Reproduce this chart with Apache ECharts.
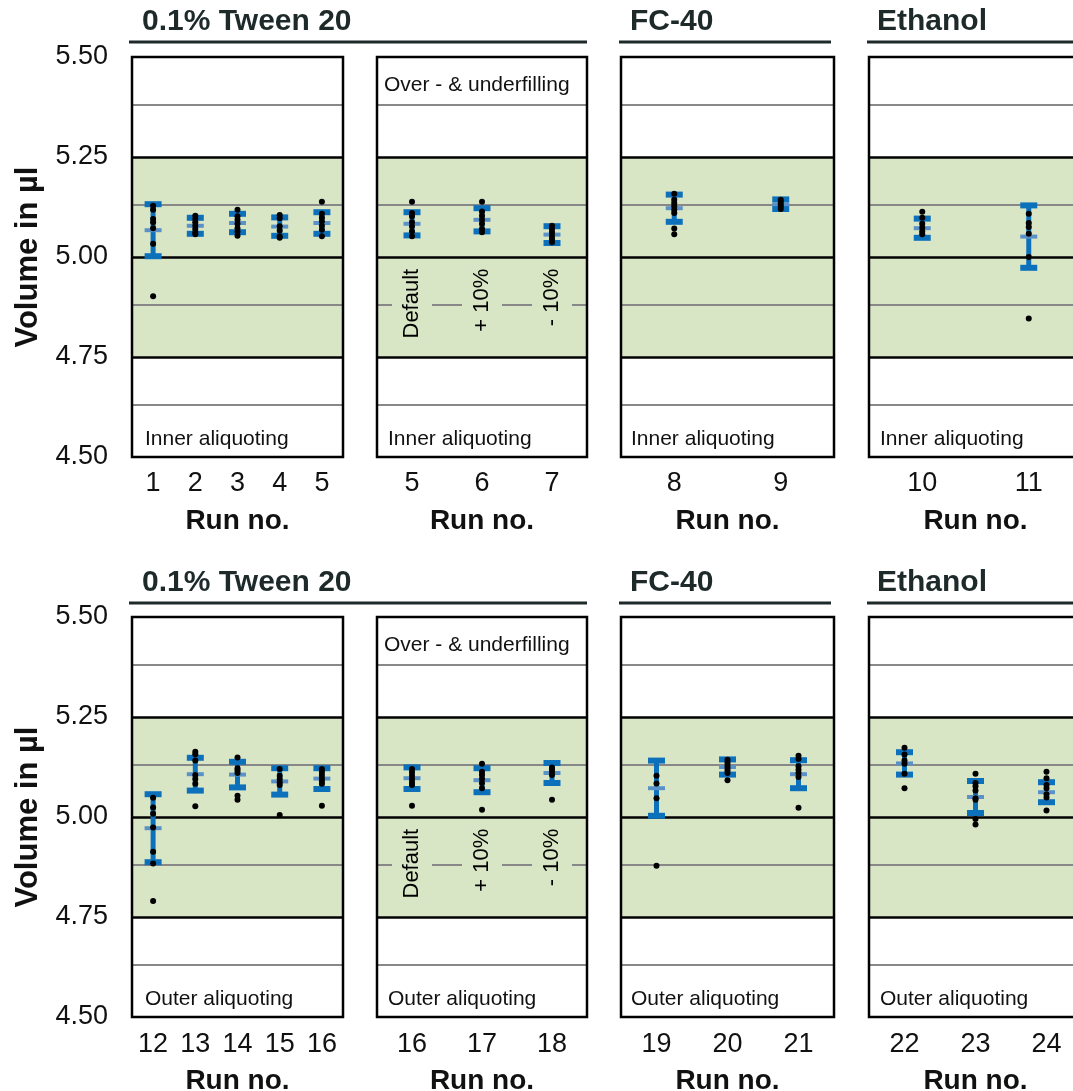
<!DOCTYPE html>
<html>
<head>
<meta charset="utf-8">
<title>Volume per run</title>
<script src="https://cdn.jsdelivr.net/npm/echarts@6/dist/echarts.min.js"></script>
<style>
  html, body { margin: 0; padding: 0; background: #fff; }
  #chart { width: 1073px; height: 1091px; }
</style>
</head>
<body>
<div id="chart"></div>
<script>
// run numbers shown under each panel
const tweenInnerRuns = ['1', '2', '3', '4', '5'];
const fillInnerRuns = ['5', '6', '7'];
const fcInnerRuns = ['8', '9'];
const ethInnerRuns = ['10', '11'];
const tweenOuterRuns = ['12', '13', '14', '15', '16'];
const fillOuterRuns = ['16', '17', '18'];
const fcOuterRuns = ['19', '20', '21'];
const ethOuterRuns = ['22', '23', '24'];

// mean volume in µl per run
const tweenInnerMean = [5.067, 5.078, 5.085, 5.076, 5.085];
const fillInnerMean = [5.083, 5.093, 5.056];
const fcInnerMean = [5.122, 5.132];
const ethInnerMean = [5.072, 5.051];
const tweenOuterMean = [4.972, 5.107, 5.106, 5.089, 5.096];
const fillOuterMean = [5.097, 5.092, 5.110];
const fcOuterMean = [5.072, 5.125, 5.107];
const ethOuterMean = [5.134, 5.050, 5.062];

// standard deviation per run
const tweenInnerSD = [0.065, 0.020, 0.023, 0.023, 0.027];
const fillInnerSD = [0.029, 0.029, 0.021];
const fcInnerSD = [0.034, 0.012];
const ethInnerSD = [0.024, 0.078];
const tweenOuterSD = [0.085, 0.041, 0.032, 0.033, 0.026];
const fillOuterSD = [0.027, 0.030, 0.025];
const fcOuterSD = [0.069, 0.019, 0.035];
const ethOuterSD = [0.028, 0.040, 0.025];

// single measurements per run
const tweenInnerPoints = [
  [5.128, 5.118, 5.095, 5.087, 5.072, 5.033, 4.902],
  [5.103, 5.095, 5.087, 5.078, 5.070, 5.062, 5.057],
  [5.118, 5.102, 5.093, 5.083, 5.072, 5.063, 5.053],
  [5.105, 5.097, 5.077, 5.066, 5.052, 5.048],
  [5.138, 5.108, 5.098, 5.089, 5.078, 5.068, 5.052]
];
const fillInnerPoints = [
  [5.138, 5.110, 5.102, 5.087, 5.077, 5.064, 5.052],
  [5.138, 5.114, 5.103, 5.093, 5.083, 5.070, 5.062],
  [5.078, 5.070, 5.062, 5.053, 5.045, 5.037]
];
const fcInnerPoints = [
  [5.158, 5.143, 5.135, 5.127, 5.118, 5.110, 5.071, 5.057],
  [5.143, 5.138, 5.132, 5.126, 5.120]
];
const ethInnerPoints = [
  [5.113, 5.098, 5.083, 5.073, 5.064, 5.057],
  [5.108, 5.085, 5.075, 5.058, 5.000, 4.846]
];
const tweenOuterPoints = [
  [5.048, 5.024, 5.008, 4.974, 4.913, 4.884, 4.790],
  [5.163, 5.157, 5.141, 5.105, 5.095, 5.083, 5.027],
  [5.149, 5.122, 5.116, 5.110, 5.053, 5.043],
  [5.120, 5.103, 5.095, 5.087, 5.080, 5.005],
  [5.120, 5.113, 5.105, 5.097, 5.090, 5.083, 5.028]
];
const fillOuterPoints = [
  [5.120, 5.112, 5.103, 5.095, 5.087, 5.080, 5.028],
  [5.133, 5.113, 5.105, 5.095, 5.085, 5.072, 5.018],
  [5.124, 5.118, 5.112, 5.105, 5.043]
];
const fcOuterPoints = [
  [5.103, 5.084, 5.047, 4.878],
  [5.143, 5.137, 5.130, 5.123, 5.117, 5.110, 5.092],
  [5.153, 5.145, 5.127, 5.118, 5.110, 5.100, 5.023]
];
const ethOuterPoints = [
  [5.173, 5.156, 5.141, 5.133, 5.108, 5.072],
  [5.108, 5.085, 5.077, 5.066, 5.047, 5.043, 4.995, 4.981],
  [5.113, 5.097, 5.080, 5.072, 5.057, 5.049, 5.016]
];

const fillLabels = ['Default', '+ 10%', '- 10%'];
const greyLevels = [4.625, 4.875, 5.125, 5.375];
const blackLevels = [4.75, 5.0, 5.25];

const panels = [
  { runs: tweenInnerRuns, mean: tweenInnerMean, sd: tweenInnerSD, pts: tweenInnerPoints },
  { runs: fillInnerRuns, mean: fillInnerMean, sd: fillInnerSD, pts: fillInnerPoints, fill: true },
  { runs: fcInnerRuns, mean: fcInnerMean, sd: fcInnerSD, pts: fcInnerPoints },
  { runs: ethInnerRuns, mean: ethInnerMean, sd: ethInnerSD, pts: ethInnerPoints },
  { runs: tweenOuterRuns, mean: tweenOuterMean, sd: tweenOuterSD, pts: tweenOuterPoints },
  { runs: fillOuterRuns, mean: fillOuterMean, sd: fillOuterSD, pts: fillOuterPoints, fill: true },
  { runs: fcOuterRuns, mean: fcOuterMean, sd: fcOuterSD, pts: fcOuterPoints },
  { runs: ethOuterRuns, mean: ethOuterMean, sd: ethOuterSD, pts: ethOuterPoints }
];

const colLeft = [132, 377, 621, 869];
const colWidth = [211, 210, 213, 213];
const rowTop = [57, 617];
const FONT = '"Liberation Sans", Arial, sans-serif';
const GREEN = '#d9e6c6';
const BLUE = '#0d70bb';
const BLUE_LIGHT = '#5a92c8';
const HEAD = '#1e2a2a';

const chart = echarts.init(document.getElementById('chart'));

const grid = [], xAxis = [], yAxis = [], series = [];

panels.forEach((p, i) => {
  const row = Math.floor(i / 4), col = i % 4;
  grid.push({
    left: colLeft[col], top: rowTop[row], width: colWidth[col], height: 400,
    outerBoundsMode: 'none', containLabel: false,
    show: true, z: 10, backgroundColor: 'transparent',
    borderColor: '#000', borderWidth: 2.5
  });
  xAxis.push({
    type: 'category', gridIndex: i, data: p.runs,
    axisLine: { show: false }, axisTick: { show: false }, splitLine: { show: false },
    axisLabel: { fontSize: 27, color: '#111', margin: 13 + row, fontFamily: FONT },
    name: 'Run no.', nameLocation: 'middle', nameGap: 50,
    nameTextStyle: { fontSize: 28, fontWeight: 'bold', color: '#111', fontFamily: FONT }
  });
  yAxis.push({
    type: 'value', gridIndex: i, min: 4.5, max: 5.5, interval: 0.125,
    axisLine: { show: false }, axisTick: { show: false }, splitLine: { show: false },
    axisLabel: {
      show: col === 0, fontSize: 27, color: '#111', margin: 24, fontFamily: FONT,
      formatter: v => (Math.round(v * 1000) % 250 === 0 ? v.toFixed(2) : '')
    },
    name: col === 0 ? 'Volume in µl' : '', nameLocation: 'middle', nameGap: 88,
    nameTextStyle: { fontSize: 31, fontWeight: 'bold', color: '#111', fontFamily: FONT }
  });

  // green tolerance band
  series.push({
    type: 'line', xAxisIndex: i, yAxisIndex: i, data: [], z: 0, silent: true,
    markArea: {
      silent: true, z: 0, itemStyle: { color: GREEN },
      data: [[{ yAxis: 4.75 }, { yAxis: 5.25 }]]
    }
  });

  // reference lines
  series.push({
    type: 'line', xAxisIndex: i, yAxisIndex: i, data: [], z: 1, silent: true,
    markLine: {
      silent: true, z: 1, symbol: ['none', 'none'], label: { show: false },
      data: greyLevels.map(v => ({ yAxis: v, lineStyle: { color: '#888', width: 2, type: 'solid' } }))
        .concat(blackLevels.map(v => ({ yAxis: v, lineStyle: { color: '#000', width: 2.6, type: 'solid' } })))
    }
  });

  // mean ± SD
  series.push({
    type: 'custom', xAxisIndex: i, yAxisIndex: i, z: 2, silent: true,
    data: p.mean.map((m, k) => [k, m, m + p.sd[k], m - p.sd[k]]),
    renderItem: (params, api) => {
      const c = api.coord([api.value(0), api.value(1)]);
      const hi = api.coord([api.value(0), api.value(2)])[1];
      const lo = api.coord([api.value(0), api.value(3)])[1];
      const x = c[0];
      return {
        type: 'group',
        children: [
          { type: 'rect', shape: { x: x - 2.5, y: hi, width: 5, height: lo - hi }, style: { fill: BLUE } },
          { type: 'rect', shape: { x: x - 8.5, y: hi - 3, width: 17, height: 6 }, style: { fill: BLUE } },
          { type: 'rect', shape: { x: x - 8.5, y: lo - 3, width: 17, height: 6 }, style: { fill: BLUE } },
          { type: 'rect', shape: { x: x - 8.5, y: c[1] - 2, width: 17, height: 4 }, style: { fill: BLUE_LIGHT } }
        ]
      };
    }
  });

  // single measurements
  const dots = [];
  p.pts.forEach((vals, k) => vals.forEach(v => dots.push([k, v])));
  series.push({
    type: 'scatter', xAxisIndex: i, yAxisIndex: i, z: 4, silent: true,
    symbolSize: 6, itemStyle: { color: '#000', opacity: 1 }, data: dots
  });

  if (p.fill) {
    series.push({
      type: 'scatter', xAxisIndex: i, yAxisIndex: i, z: 3, silent: true,
      symbolSize: 0, itemStyle: { opacity: 1 },
      data: fillLabels.map((t, k) => ({ value: [k, 4.973], name: t })),
      label: {
        show: true, position: 'inside', rotate: 90, align: 'right', verticalAlign: 'middle',
        formatter: '{b}', fontSize: 22, color: '#000', fontFamily: FONT,
        backgroundColor: GREEN, padding: [9, 1]
      }
    });
  }
});

const graphic = [];
const heads = [
  { t: '0.1% Tween 20', x: 142, x1: 129, x2: 587 },
  { t: 'FC-40', x: 630, x1: 619, x2: 831 },
  { t: 'Ethanol', x: 877, x1: 867, x2: 1080 }
];
[22, 583].forEach((yc, row) => {
  heads.forEach(h => {
    graphic.push({
      type: 'text', x: h.x, y: yc,
      style: { text: h.t, font: 'bold 30px ' + FONT, fill: HEAD, textVerticalAlign: 'middle' }
    });
    graphic.push({
      type: 'line', shape: { x1: h.x1, y1: yc + 20, x2: h.x2, y2: yc + 20 },
      style: { stroke: HEAD, lineWidth: 3 }
    });
  });
  const note = row === 0 ? 'Inner aliquoting' : 'Outer aliquoting';
  [145, 388, 631, 880].forEach(x => {
    graphic.push({
      type: 'text', x: x, y: rowTop[row] + 382, z: 20,
      style: { text: note, font: '21px ' + FONT, fill: '#111', textVerticalAlign: 'middle' }
    });
  });
  graphic.push({
    type: 'text', x: 384, y: rowTop[row] + 28, z: 20,
    style: { text: 'Over - & underfilling', font: '21px ' + FONT, fill: '#111', textVerticalAlign: 'middle' }
  });
});

chart.setOption({
  animation: false,
  backgroundColor: '#fff',
  grid, xAxis, yAxis, series, graphic
});
</script>
</body>
</html>
